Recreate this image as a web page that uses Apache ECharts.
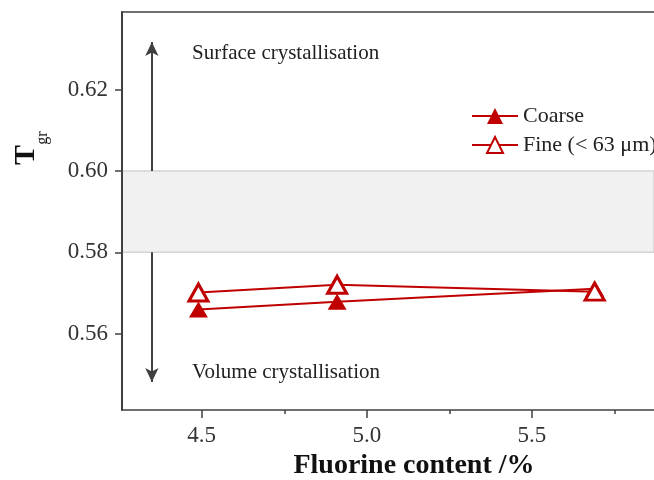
<!DOCTYPE html>
<html>
<head>
<meta charset="utf-8">
<script src="https://cdn.jsdelivr.net/npm/echarts@6/dist/echarts.min.js"></script>
<style>
  html, body { margin: 0; padding: 0; background: #ffffff; }
  #chart { width: 654px; height: 480px; }
</style>
</head>
<body>
<div id="chart"></div>
<script>
// Fluorine content (%) of each glass and the reduced glass transition temperature
const fluorine = [4.49, 4.91, 5.69];
const coarse = [0.5659, 0.5678, 0.5710];
const fine = [0.5701, 0.5720, 0.5703];
const seriesNames = ['Coarse', 'Fine (< 63 \u03BCm)'];

// Axis ticks and ranges
const xTicks = [4.5, 5.0, 5.5];
const xMinorTicks = [4.75, 5.25, 5.75];
const xRange = [4.2585, 5.8697];
const yTicks = [0.56, 0.58, 0.60, 0.62];
const yRange = [0.5412, 0.6391];

// Shaded transition band and the direction arrow
const bandRange = [0.58, 0.60];
const arrowX = 4.349;
const arrowEnds = [0.6317, 0.5481];

const SERIF = 'Liberation Serif';
const RED = '#c00000';
const AXIS = '#404040';

const chart = echarts.init(document.getElementById('chart'), null, { renderer: 'canvas' });

const toPairs = (ys) => fluorine.map((x, i) => [x, ys[i]]);

const hiddenAxisParts = { axisLabel: { show: false }, splitLine: { show: false } };

chart.setOption({
  animation: false,
  backgroundColor: '#ffffff',
  grid: { left: 122, top: 12, right: 0, bottom: 70 },
  legend: {
    orient: 'vertical',
    left: 466, top: 100,
    itemWidth: 46, itemHeight: 20, itemGap: 7,
    data: seriesNames,
    textStyle: { fontFamily: SERIF, fontSize: 22, color: '#222' }
  },
  xAxis: [
    {
      type: 'value', min: xRange[0], max: xRange[1], position: 'bottom', z: 10,
      axisLine: { show: true, onZero: false, lineStyle: { color: AXIS, width: 1.5 } },
      axisTick: { show: true, customValues: xTicks, length: 8, lineStyle: { color: AXIS, width: 1.5 } },
      axisLabel: {
        customValues: xTicks, formatter: (v) => v.toFixed(1), margin: 14,
        fontFamily: SERIF, fontSize: 23, color: '#333'
      },
      splitLine: { show: false }
    },
    Object.assign({
      type: 'value', min: xRange[0], max: xRange[1], position: 'bottom', z: 10,
      axisLine: { show: false },
      axisTick: { show: true, customValues: xMinorTicks, length: 4, lineStyle: { color: AXIS, width: 1.5 } }
    }, hiddenAxisParts),
    // frame line along the top of the plot
    Object.assign({
      type: 'value', min: xRange[0], max: xRange[1], position: 'top', z: 10,
      axisLine: { show: true, onZero: false, lineStyle: { color: AXIS, width: 1.5 } },
      axisTick: { show: false }
    }, hiddenAxisParts)
  ],
  yAxis: {
    type: 'value', min: yRange[0], max: yRange[1], z: 10,
    axisLine: { show: true, onZero: false, lineStyle: { color: AXIS, width: 2 } },
    axisTick: { show: true, customValues: yTicks, length: 7, lineStyle: { color: AXIS, width: 1.5 } },
    axisLabel: {
      customValues: yTicks, formatter: (v) => v.toFixed(2), margin: 14,
      fontFamily: SERIF, fontSize: 23, color: '#333'
    },
    splitLine: { show: false }
  },
  series: [
    {
      name: seriesNames[0],
      type: 'line',
      data: toPairs(coarse),
      symbol: 'triangle', symbolSize: [19, 16],
      itemStyle: { color: RED },
      lineStyle: { color: RED, width: 2 },
      z: 3,
      markLine: {
        silent: true, animation: false,
        symbol: ['none', 'none'], symbolSize: [10, 14],
        lineStyle: { color: AXIS, width: 2, type: 'solid' },
        label: { show: false },
        emphasis: { disabled: true },
        data: [
          [{ coord: [arrowX, arrowEnds[0]], symbol: 'arrow' }, { coord: [arrowX, bandRange[1]], symbol: 'none' }],
          [{ coord: [arrowX, bandRange[0]], symbol: 'none' }, { coord: [arrowX, arrowEnds[1]], symbol: 'arrow' }]
        ]
      },
      markArea: {
        silent: true,
        itemStyle: { color: '#f1f1f1', borderColor: '#d4d4d4', borderWidth: 1.5 },
        emphasis: { disabled: true },
        data: [[{ yAxis: bandRange[0] }, { yAxis: bandRange[1] }]]
      }
    },
    {
      name: seriesNames[1],
      type: 'line',
      data: toPairs(fine),
      symbol: 'triangle', symbolSize: [19, 17],
      itemStyle: { color: '#ffffff', borderColor: RED, borderWidth: 3 },
      lineStyle: { color: RED, width: 2 },
      z: 4
    }
  ],
  graphic: [
    {
      type: 'text', left: 192, top: 43,
      style: { text: 'Surface crystallisation', font: '21px "Liberation Serif"', fill: '#222' }
    },
    {
      type: 'text', left: 192, top: 362,
      style: { text: 'Volume crystallisation', font: '21px "Liberation Serif"', fill: '#222' }
    },
    {
      type: 'text', x: 414, y: 466,
      style: {
        text: 'Fluorine content /%', font: 'bold 28px "Liberation Serif"', fill: '#111',
        align: 'center', verticalAlign: 'middle'
      }
    },
    {
      type: 'text', x: 26, y: 155, rotation: Math.PI / 2,
      style: {
        text: 'T', font: 'bold 30px "Liberation Serif"', fill: '#111',
        align: 'center', verticalAlign: 'middle'
      }
    },
    {
      type: 'text', x: 43, y: 138, rotation: Math.PI / 2,
      style: {
        text: 'gr', font: '16px "Liberation Serif"', fill: '#111',
        align: 'center', verticalAlign: 'middle'
      }
    }
  ]
});
</script>
</body>
</html>
